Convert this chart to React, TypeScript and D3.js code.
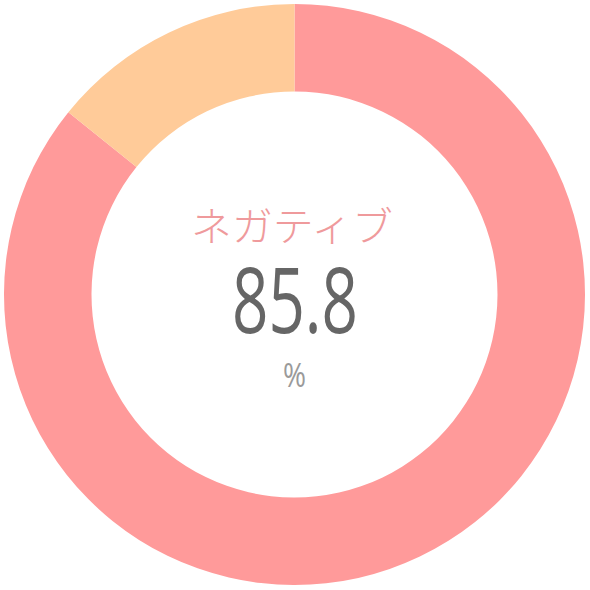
import React from "react";
import * as d3 from "d3";

const categories = ["ネガティブ", "その他"];
const values = [85.8, 14.2];
const colors = ["#ff9a9a", "#ffcb99"];
const centerLabel = "ネガティブ";
const centerValue = "85.8";
const unitLabel = "%";

export default function App() {
  const W = 590;
  const H = 590;
  const cx = 294.5;
  const cy = 294.5;
  const outerR = 290.5;
  const innerR = 203;

  const pie = d3
    .pie<number>()
    .sort(null)
    .value((d) => d)(values);
  const arc = d3.arc<d3.PieArcDatum<number>>().innerRadius(innerR).outerRadius(outerR);

  return (
    <svg
      width={W}
      height={H}
      style={{ position: "absolute", left: 0, top: 0, background: "#fff" }}
    >
      <g transform={`translate(${cx},${cy})`}>
        {pie.map((p, i) => (
          <path key={categories[i]} d={arc(p) || ""} fill={colors[i]} />
        ))}
      </g>
      <text
        x={292}
        y={224}
        textAnchor="middle"
        dominantBaseline="central"
        fontFamily="'Noto Sans CJK JP', 'Noto Sans', sans-serif"
        fontSize={40}
        fontWeight={300}
        fill="#ef9a9c"
        textLength={202}
        lengthAdjust="spacingAndGlyphs"
      >
        {centerLabel}
      </text>
      <text
        x={295}
        y={333}
        textAnchor="middle"
        fontFamily="'Open Sans', sans-serif"
        fontSize={91}
        fill="#666666"
        textLength={126}
        lengthAdjust="spacingAndGlyphs"
      >
        {centerValue}
      </text>
      <text
        x={294.5}
        y={387}
        textAnchor="middle"
        fontFamily="'Open Sans', sans-serif"
        fontSize={33}
        fill="#9a9a9a"
        textLength={23}
        lengthAdjust="spacingAndGlyphs"
      >
        {unitLabel}
      </text>
    </svg>
  );
}
